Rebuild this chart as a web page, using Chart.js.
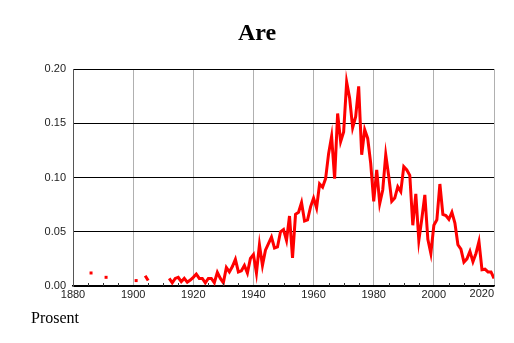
<!DOCTYPE html>
<html>
<head>
<meta charset="utf-8">
<title>Are</title>
<script src="https://cdn.jsdelivr.net/npm/chart.js@4/dist/chart.umd.min.js"></script>
<style>
    body { margin: 0; background: #fff; }
    canvas { display: block; }
</style>
</head>
<body>
<canvas id="chart" width="514" height="343"></canvas>
<script>
// yearly share (percent) for the word "Are"
const years = [
    1886, 1887, 1888, 1889, 1890, 1891, 1892, 1893, 1894, 1895,
    1896, 1897, 1898, 1899, 1900, 1901, 1902, 1903, 1904, 1905,
    1906, 1907, 1908, 1909, 1910, 1911, 1912, 1913, 1914, 1915,
    1916, 1917, 1918, 1919, 1920, 1921, 1922, 1923, 1924, 1925,
    1926, 1927, 1928, 1929, 1930, 1931, 1932, 1933, 1934, 1935,
    1936, 1937, 1938, 1939, 1940, 1941, 1942, 1943, 1944, 1945,
    1946, 1947, 1948, 1949, 1950, 1951, 1952, 1953, 1954, 1955,
    1956, 1957, 1958, 1959, 1960, 1961, 1962, 1963, 1964, 1965,
    1966, 1967, 1968, 1969, 1970, 1971, 1972, 1973, 1974, 1975,
    1976, 1977, 1978, 1979, 1980, 1981, 1982, 1983, 1984, 1985,
    1986, 1987, 1988, 1989, 1990, 1991, 1992, 1993, 1994, 1995,
    1996, 1997, 1998, 1999, 2000, 2001, 2002, 2003, 2004, 2005,
    2006, 2007, 2008, 2009, 2010, 2011, 2012, 2013, 2014, 2015,
    2016, 2017, 2018, 2019, 2020
];

const share = [
    0.012, null, null, null, null, 0.008, null, null, null, null,
    null, null, null, null, null, 0.005, null, null, 0.0095, 0.005,
    null, null, null, null, null, null, 0.007, 0.003, 0.007, 0.008,
    0.004, 0.007, 0.0035, 0.0055, 0.008, 0.011, 0.007, 0.007, 0.003, 0.007,
    0.007, 0.003, 0.0126, 0.007, 0.003, 0.017, 0.013, 0.018, 0.0246, 0.013,
    0.014, 0.019, 0.012, 0.0255, 0.029, 0.012, 0.038, 0.019, 0.033, 0.039,
    0.045, 0.035, 0.036, 0.050, 0.052, 0.042, 0.0645, 0.026, 0.066, 0.068,
    0.077, 0.060, 0.061, 0.073, 0.081, 0.072, 0.094, 0.091, 0.099, 0.122,
    0.138, 0.099, 0.159, 0.133, 0.142, 0.188, 0.173, 0.146, 0.156, 0.184,
    0.121, 0.144, 0.136, 0.113, 0.078, 0.107, 0.076, 0.0885, 0.121, 0.101,
    0.078, 0.081, 0.0915, 0.087, 0.110, 0.107, 0.102, 0.056, 0.085, 0.042,
    0.062, 0.084, 0.043, 0.030, 0.056, 0.061, 0.094, 0.066, 0.065, 0.0615,
    0.068, 0.058, 0.038, 0.034, 0.022, 0.025, 0.032, 0.0224, 0.030, 0.041,
    0.015, 0.0155, 0.013, 0.013, 0.007
];

const xTicks = [1880, 1900, 1920, 1940, 1960, 1980, 2000, 2020];
const xMinorTicks = [1885, 1890, 1895, 1905, 1910, 1915, 1925, 1930, 1935,
    1945, 1950, 1955, 1965, 1970, 1975, 1985, 1990, 1995, 2005, 2010, 2015];
const yTicks = [0, 0.05, 0.10, 0.15, 0.20];

const tickFont = { family: "'Liberation Sans', Arial, sans-serif", size: 11 };
const tickColor = '#222';

// small inner ticks on the x axis, the right-aligned last year and the unit label
const extras = {
    id: 'extras',
    afterDraw(chart) {
        const { ctx, chartArea } = chart;
        const x = chart.scales.x;
        ctx.save();

        ctx.strokeStyle = '#333';
        ctx.lineWidth = 1;
        for (const yr of xMinorTicks) {
            const px = Math.round(x.getPixelForValue(yr)) + 0.5;
            ctx.beginPath();
            ctx.moveTo(px, chartArea.bottom);
            ctx.lineTo(px, chartArea.bottom - 3);
            ctx.stroke();
        }

        const last = xTicks[xTicks.length - 1];
        ctx.font = `${tickFont.size}px ${tickFont.family}`;
        ctx.fillStyle = tickColor;
        ctx.textAlign = 'right';
        ctx.textBaseline = 'top';
        ctx.fillText(String(last), x.getPixelForValue(last), x.top + x.options.ticks.padding);

        ctx.font = "16px 'Liberation Serif', 'Times New Roman', serif";
        ctx.fillStyle = '#000';
        ctx.textAlign = 'left';
        ctx.textBaseline = 'alphabetic';
        ctx.fillText('Prosent', 31, 323);

        ctx.restore();
    }
};

const ctx = document.getElementById('chart');

new Chart(ctx, {
    type: 'line',
    data: {
        datasets: [{
            label: 'Are',
            data: years.map((yr, i) => ({ x: yr, y: share[i] })),
            borderColor: '#ff0000',
            backgroundColor: '#ff0000',
            borderWidth: 3,
            tension: 0,
            spanGaps: false,
            fill: false,
            // lone years have no neighbours to join, so show them as a short dash
            pointStyle: 'line',
            pointBorderWidth: 3,
            pointRadius: (c) => {
                const i = c.dataIndex;
                if (share[i] === null) return 0;
                const prev = i > 0 ? share[i - 1] : null;
                const next = i < share.length - 1 ? share[i + 1] : null;
                return prev === null && next === null ? 1.5 : 0;
            },
            pointHoverRadius: 0
        }]
    },
    options: {
        responsive: false,
        animation: false,
        layout: {
            padding: { top: 0, left: 20, right: 20, bottom: 37 }
        },
        plugins: {
            legend: { display: false },
            tooltip: { enabled: false },
            title: {
                display: true,
                text: 'Are',
                color: '#000',
                font: { family: "'Liberation Serif', 'Times New Roman', serif", size: 24, weight: 'bold' },
                padding: { top: 19, bottom: 21.2 }
            }
        },
        scales: {
            x: {
                type: 'linear',
                min: xTicks[0],
                max: xTicks[xTicks.length - 1],
                afterBuildTicks: (scale) => {
                    scale.ticks = xTicks.map(v => ({ value: v }));
                },
                afterFit: (scale) => { scale.height = 20; },
                ticks: {
                    font: tickFont,
                    color: tickColor,
                    padding: 2,
                    maxRotation: 0,
                    autoSkip: false,
                    callback: (v) => v === xTicks[xTicks.length - 1] ? '' : String(v)
                },
                grid: {
                    color: '#b0b0b0',
                    lineWidth: 1,
                    drawTicks: false
                },
                border: { display: true, color: '#000', width: 1.5 }
            },
            y: {
                min: yTicks[0],
                max: yTicks[yTicks.length - 1],
                afterBuildTicks: (scale) => {
                    scale.ticks = yTicks.map(v => ({ value: v }));
                },
                afterFit: (scale) => { scale.width = 53; },
                ticks: {
                    font: tickFont,
                    color: tickColor,
                    padding: 7,
                    callback: (v) => v.toFixed(2)
                },
                grid: {
                    color: '#000',
                    lineWidth: 1,
                    drawTicks: false
                },
                border: { display: true, color: '#555', width: 1 }
            }
        }
    },
    plugins: [extras]
});
</script>
</body>
</html>
